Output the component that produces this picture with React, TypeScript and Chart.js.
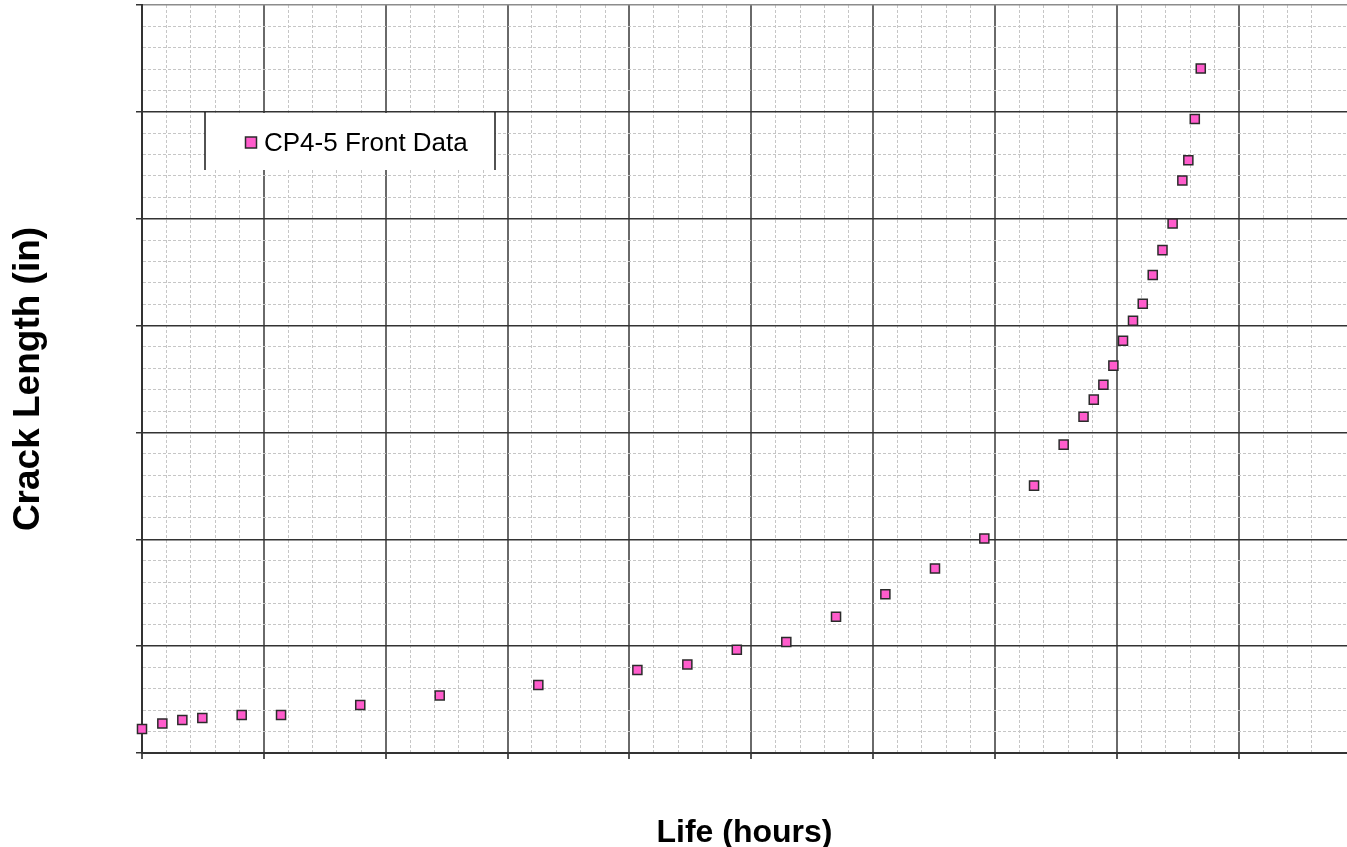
import { useEffect, useRef } from 'react';
import { Chart, registerables } from 'chart.js';

Chart.register(...registerables);

// ---- data ----
const seriesLabel = 'CP4-5 Front Data';
const lifeHours = [
  0, 167, 331, 495, 818, 1141, 1791, 2443, 3252, 4065, 4475, 4881, 5287, 5695, 6100, 6507, 6912,
  7320, 7563, 7726, 7810, 7889, 7971, 8050, 8132, 8212, 8294, 8374, 8457, 8537, 8586, 8639, 8688,
];
const crackLength = [
  0.0224, 0.0277, 0.0309, 0.0327, 0.0355, 0.0355, 0.0449, 0.0539, 0.0636, 0.0776, 0.0829, 0.0966,
  0.1038, 0.1275, 0.1485, 0.1726, 0.2007, 0.2502, 0.2886, 0.3147, 0.3307, 0.3446, 0.3625, 0.3858,
  0.4045, 0.4204, 0.4473, 0.4706, 0.4956, 0.5358, 0.5548, 0.5934, 0.6405,
];
const xTitle = 'Life (hours)';
const yTitle = 'Crack Length (in)';
const xMajorStep = 1000;
const xMinorStep = 200;
const xMin = 0;
const xMax = 9888;
const yMajorStep = 0.1;
const yMinorStep = 0.02;
const yMin = 0;
const yMax = 0.7;

const FONT = '"Liberation Sans", Arial, Helvetica, sans-serif';

const isMultiple = (v: number, step: number) => Math.abs(v / step - Math.round(v / step)) < 1e-6;

const boxLegend = {
  id: 'boxLegend',
  afterDraw(chart: any, _args: any, opts: any) {
    const ctx = chart.ctx as CanvasRenderingContext2D;
    const ds = chart.data.datasets[0];
    const { left, top, right, bottom } = opts;
    ctx.save();
    ctx.fillStyle = '#ffffff';
    ctx.fillRect(left, top + 1, right - left, bottom - top - 1);
    ctx.strokeStyle = '#1a1a1a';
    ctx.lineWidth = 1.5;
    ctx.beginPath();
    ctx.moveTo(left, top);
    ctx.lineTo(left, bottom);
    ctx.moveTo(right, top);
    ctx.lineTo(right, bottom);
    ctx.stroke();
    const midY = top + 30.5;
    const ms = 11;
    const mx = left + 46;
    ctx.fillStyle = ds.backgroundColor;
    ctx.fillRect(mx - ms / 2, midY - ms / 2, ms, ms);
    ctx.strokeStyle = ds.borderColor;
    ctx.lineWidth = 1.5;
    ctx.strokeRect(mx - ms / 2, midY - ms / 2, ms, ms);
    ctx.fillStyle = '#000000';
    ctx.font = `26px ${FONT}`;
    ctx.textBaseline = 'middle';
    ctx.textAlign = 'left';
    ctx.fillText(ds.label, left + 59, midY + 1.5);
    ctx.restore();
  },
};

export default function App() {
  const canvasRef = useRef<HTMLCanvasElement | null>(null);

  useEffect(() => {
    if (!canvasRef.current) return;
    const points = lifeHours.map((x, i) => ({ x, y: crackLength[i] }));
    const chart = new Chart(canvasRef.current, {
      type: 'scatter',
      data: {
        datasets: [
          {
            label: seriesLabel,
            data: points,
            backgroundColor: '#ff5ccc',
            borderColor: '#2b2b2b',
            borderWidth: 1.5,
            pointStyle: 'rect',
            pointRadius: 6.4,
            pointHoverRadius: 6.4,
            clip: false as any,
          },
        ],
      },
      options: {
        responsive: false,
        animation: false,
        events: [],
        layout: { autoPadding: false, padding: { top: 5, left: 0, right: 0, bottom: 0 } },
        plugins: {
          legend: { display: false },
          tooltip: { enabled: false },
          boxLegend: { left: 205, top: 112, right: 495, bottom: 170 },
        } as any,
        scales: {
          x: {
            type: 'linear',
            min: xMin,
            max: xMax,
            afterFit: (scale: any) => {
              scale.height = 94;
            },
            ticks: { display: false, stepSize: xMinorStep },
            grid: {
              drawTicks: true,
              tickLength: 6,
              color: (c: any) => {
                const v = c.tick?.value ?? 0;
                if (!isMultiple(v, xMinorStep)) return 'rgba(0,0,0,0)';
                return isMultiple(v, xMajorStep) ? '#6a6a6a' : '#c6c6c6';
              },
              lineWidth: (c: any) => (isMultiple(c.tick?.value ?? 0, xMajorStep) ? 2 : 1),
              tickColor: (c: any) => (isMultiple(c.tick?.value ?? 0, xMajorStep) ? '#555555' : 'rgba(0,0,0,0)'),
              tickWidth: 2,
            },
            border: {
              display: true,
              color: '#333333',
              width: 2,
              dash: (c: any) =>
                c.type === 'tick' && c.tick && !isMultiple(c.tick.value, xMajorStep) ? [3, 2] : [],
            },
            title: {
              display: true,
              text: xTitle,
              color: '#000000',
              font: { family: FONT, size: 32, weight: 'bold', lineHeight: 0.875 },
              padding: { top: 0, bottom: 0 },
            },
          },
          y: {
            type: 'linear',
            min: yMin,
            max: yMax,
            afterFit: (scale: any) => {
              scale.width = 142;
            },
            ticks: { display: false, stepSize: yMinorStep },
            grid: {
              drawTicks: true,
              tickLength: 6,
              color: (c: any) => {
                const v = c.tick?.value ?? 0;
                if (isMultiple(v, yMajorStep)) return isMultiple(v, yMax) && v > 0 ? '#8c8c8c' : '#333333';
                return '#c6c6c6';
              },
              lineWidth: (c: any) => (isMultiple(c.tick?.value ?? 0, yMajorStep) ? 1.5 : 1),
              tickColor: (c: any) => (isMultiple(c.tick?.value ?? 0, yMajorStep) ? '#333333' : 'rgba(0,0,0,0)'),
              tickWidth: 1.5,
            },
            border: {
              display: true,
              color: '#333333',
              width: 2,
              dash: (c: any) =>
                c.type === 'tick' && c.tick && !isMultiple(c.tick.value, yMajorStep) ? [3, 2] : [],
            },
            title: {
              display: true,
              text: yTitle,
              color: '#000000',
              font: { family: FONT, size: 37, weight: 'bold', lineHeight: 1.2 },
              padding: { top: 7, bottom: 0 },
            },
          },
        },
      } as any,
      plugins: [boxLegend as any],
    });
    return () => chart.destroy();
  }, []);

  return (
    <div style={{ position: 'fixed', left: 0, top: 0, width: 1347, height: 847, background: '#ffffff' }}>
      <canvas ref={canvasRef} width={1347} height={847} style={{ display: 'block', width: 1347, height: 847 }} />
    </div>
  );
}
